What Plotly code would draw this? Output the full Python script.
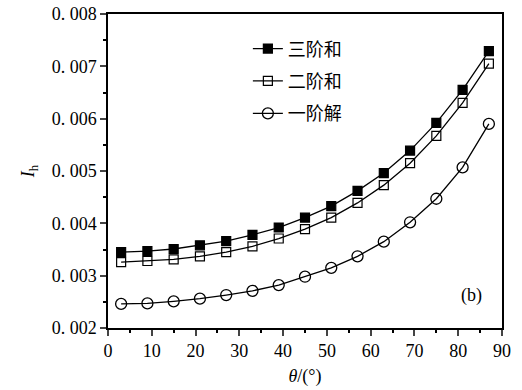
import plotly.graph_objects as go

theta = [3, 9, 15, 21, 27, 33, 39, 45, 51, 57, 63, 69, 75, 81, 87]
third_sum = [0.00345, 0.00347, 0.00351, 0.00358, 0.00366, 0.00378, 0.00392, 0.00411,
             0.00433, 0.00462, 0.00496, 0.00539, 0.00592, 0.00655, 0.00729]
second_sum = [0.00326, 0.00328, 0.00331, 0.00337, 0.00345, 0.00356, 0.00371, 0.00389,
              0.00411, 0.00439, 0.00473, 0.00515, 0.00567, 0.00630, 0.00705]
first_sol = [0.00246, 0.00247, 0.00251, 0.00256, 0.00263, 0.00271, 0.00282, 0.00298,
             0.00315, 0.00337, 0.00365, 0.00402, 0.00447, 0.00507, 0.00590]
names = ["三阶和", "二阶和", "一阶解"]
y_ticks = [0.002, 0.003, 0.004, 0.005, 0.006, 0.007, 0.008]
y_ticktext = ["0. 002", "0. 003", "0. 004", "0. 005", "0. 006", "0. 007", "0. 008"]
x_ticks = [0, 10, 20, 30, 40, 50, 60, 70, 80, 90]

serif = "Liberation Serif, Times New Roman, serif"
fig = go.Figure()
styles = [
    dict(symbol="square", color="black", line=dict(color="black", width=1.2), size=9),
    dict(symbol="square-open", color="black", line=dict(color="black", width=1.2), size=9),
    dict(symbol="circle-open", color="black", line=dict(color="black", width=1.3), size=11),
]
for i, (ys, nm, mk) in enumerate(zip([third_sum, second_sum, first_sol], names, styles)):
    fig.add_trace(go.Scatter(x=theta, y=ys, name=nm, mode="lines+markers", legendgroup=f"g{i}",
                             line=dict(color="black", width=1.3), marker=mk))

fig.update_layout(
    width=522, height=390,
    margin=dict(l=108, r=20, t=14, b=62, autoexpand=False),
    plot_bgcolor="white", paper_bgcolor="white",
    font=dict(family=serif, size=18, color="black"),
    showlegend=True,
    legend=dict(x=0.355, y=0.948, xanchor="left", yanchor="top",
                bgcolor="rgba(0,0,0,0)", font=dict(family="Noto Sans CJK SC", size=18),
                tracegroupgap=6),
    xaxis=dict(range=[0, 90], tickvals=x_ticks, ticks="outside", ticklen=6, tickwidth=1.5,
               showline=True, linecolor="black", linewidth=1.5, mirror=True,
               showgrid=False, zeroline=False, automargin=False,
               minor=dict(ticks="outside", ticklen=3, dtick=5, tickcolor="black", showgrid=False),
               title=dict(text="<i>θ</i>/(°)", font=dict(size=18), standoff=9)),
    yaxis=dict(range=[0.002, 0.008], tickvals=y_ticks, ticktext=y_ticktext,
               ticks="outside", ticklen=6, tickwidth=1.5,
               showline=True, linecolor="black", linewidth=1.5, mirror=True,
               showgrid=False, zeroline=False, automargin=False,
               minor=dict(ticks="outside", ticklen=3, dtick=0.0005, tickcolor="black", showgrid=False),
               title=dict(text="<i>I</i><sub>h</sub>", font=dict(size=18), standoff=12)),
)
fig.add_annotation(x=0.955, y=0.065, xref="paper", yref="paper", text="(b)",
                   showarrow=False, font=dict(family=serif, size=18))
fig.write_html("out.html", config={"displayModeBar": False},
               post_script="document.body.style.margin='0';")
